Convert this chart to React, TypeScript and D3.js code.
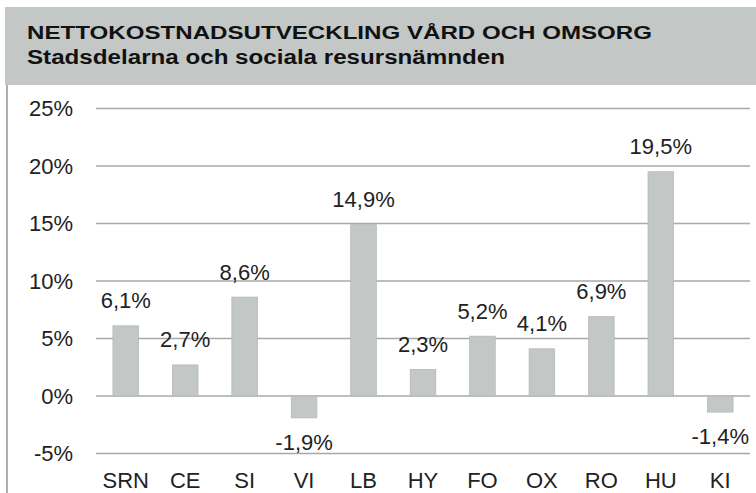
import React from "react";
import * as d3 from "d3";

const categories = ["SRN", "CE", "SI", "VI", "LB", "HY", "FO", "OX", "RO", "HU", "KI"];
const values = [6.1, 2.7, 8.6, -1.9, 14.9, 2.3, 5.2, 4.1, 6.9, 19.5, -1.4];
const yTicks = [-5, 0, 5, 10, 15, 20, 25];
const title = "NETTOKOSTNADSUTVECKLING VÅRD OCH OMSORG";
const subtitle = "Stadsdelarna och sociala resursnämnden";

const W = 756;
const H = 493;
const fmt = (v: number) => v.toFixed(1).replace(".", ",") + "%";

export default function App() {
  const x = d3.scaleBand<string>().domain(categories).range([96, 750]).paddingInner(0.57).paddingOuter(0.285);
  const y = d3.scaleLinear().domain([-5, 25]).range([453.5, 108.5]);
  const font = "'Liberation Sans', Arial, sans-serif";
  const barColor = "#c3c8c7";
  return (
    <svg width={W} height={H} style={{ position: "absolute", left: 0, top: 0 }} fontFamily={font}>
      <rect x={0} y={0} width={W} height={H} fill="#fff" />
      <rect x={5} y={7} width={W - 5} height={78} fill="#c3c8c7" />
      <line x1={7} x2={7} y1={85} y2={H} stroke="#b0b0b0" strokeWidth={2} />
      <text x={27} y={39} fontSize={19} fontWeight="bold" fill="#111" textLength={625} lengthAdjust="spacingAndGlyphs">{title}</text>
      <text x={27} y={64} fontSize={20} fontWeight="bold" fill="#111" textLength={478} lengthAdjust="spacingAndGlyphs">{subtitle}</text>
      {yTicks.map((t) => (
        <g key={t}>
          <line x1={96} x2={750} y1={y(t)} y2={y(t)} stroke="#a9a9a9" strokeWidth={1.5} />
          <text x={73} y={y(t)} dy="0.36em" textAnchor="end" fontSize={22} fill="#222">{t}%</text>
        </g>
      ))}
      {categories.map((c, i) => {
        const v = values[i];
        const bx = x(c)!;
        const bw = x.bandwidth();
        const top = y(Math.max(0, v));
        const bot = y(Math.min(0, v));
        const cx = bx + bw / 2;
        return (
          <g key={c}>
            <rect x={bx} y={top} width={bw} height={bot - top} fill={barColor} stroke="#b4b9b8" strokeWidth={0.8} />
            <text x={cx} y={v >= 0 ? top - 17.5 : bot + 32} textAnchor="middle" fontSize={22} fill="#222">{fmt(v)}</text>
            <text x={cx} y={488} textAnchor="middle" fontSize={22} fill="#222">{c}</text>
          </g>
        );
      })}
    </svg>
  );
}
